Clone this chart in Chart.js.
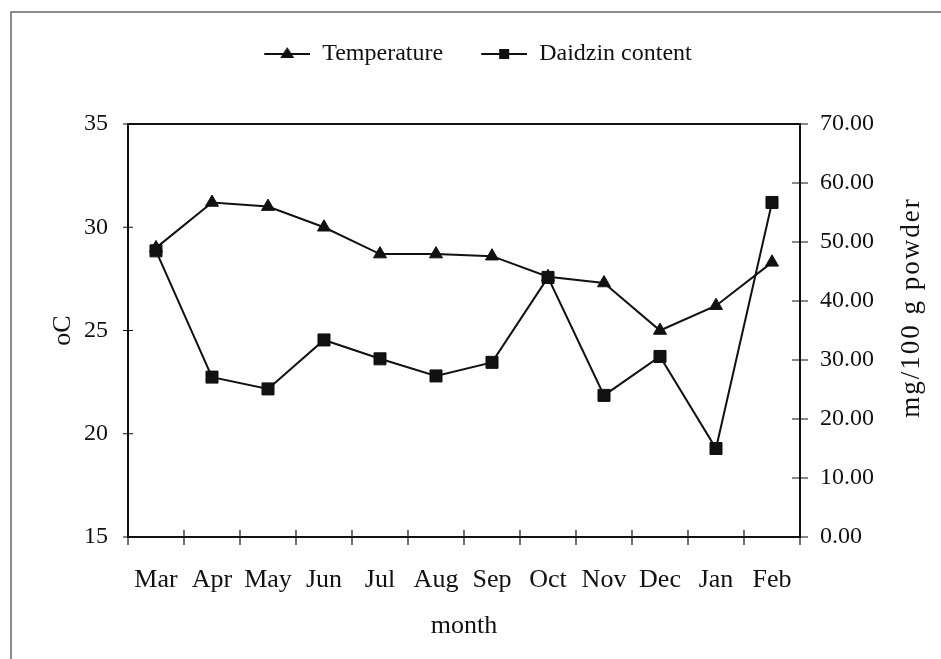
<!DOCTYPE html>
<html>
<head>
<meta charset="utf-8">
<script src="https://cdn.jsdelivr.net/npm/chart.js@4/dist/chart.umd.min.js"></script>
<style>
  body { margin: 0; background: #fff; }
  #wrap { width: 941px; height: 659px; }
</style>
</head>
<body>
<div id="wrap"><canvas id="myChart" width="941" height="659"></canvas></div>
<script>
var months = ['Mar', 'Apr', 'May', 'Jun', 'Jul', 'Aug', 'Sep', 'Oct', 'Nov', 'Dec', 'Jan', 'Feb'];
var temperature = [29.0, 31.2, 31.0, 30.0, 28.7, 28.7, 28.6, 27.6, 27.3, 25.0, 26.2, 28.3];
var daidzin = [48.5, 27.1, 25.1, 33.4, 30.2, 27.3, 29.6, 44.0, 24.0, 30.6, 15.0, 56.7];
var tempTicks = [15, 20, 25, 30, 35];
var daidzinTicks = [0, 10, 20, 30, 40, 50, 60, 70];

var serif = "'Liberation Serif', 'Times New Roman', serif";
var ink = '#111';

// legend swatch: line with the marker in the middle
function swatch(style) {
    var c = document.createElement('canvas');
    c.width = 74; c.height = 20;
    var g = c.getContext('2d');
    g.strokeStyle = ink; g.fillStyle = ink; g.lineWidth = 2;
    g.beginPath(); g.moveTo(28, 10); g.lineTo(74, 10); g.stroke();
    g.beginPath();
    if (style === 'triangle') {
        g.moveTo(51, 3); g.lineTo(58, 14); g.lineTo(44, 14); g.closePath();
    } else {
        g.rect(46, 5, 10, 10);
    }
    g.fill();
    return c;
}

var frameAndTicks = {
    id: 'frameAndTicks',
    afterDraw: function (chart) {
        var ctx = chart.ctx;
        var a = chart.chartArea;
        var s = chart.scales;
        ctx.save();
        // outer frame of the figure
        ctx.strokeStyle = '#666';
        ctx.lineWidth = 1.5;
        ctx.strokeRect(11, 12, 960, 700);
        // plot box
        ctx.strokeStyle = ink;
        ctx.lineWidth = 2;
        ctx.strokeRect(a.left, a.top, a.right - a.left, a.bottom - a.top);
        ctx.lineWidth = 1.2;
        ctx.beginPath();
        tempTicks.forEach(function (v) {
            var py = s.y.getPixelForValue(v);
            ctx.moveTo(a.left - 5, py); ctx.lineTo(a.left + 5, py);
        });
        daidzinTicks.forEach(function (v) {
            var py = s.y1.getPixelForValue(v);
            ctx.moveTo(a.right - 8, py); ctx.lineTo(a.right + 8, py);
        });
        for (var i = 0; i <= months.length; i++) {
            var px = s.x.getPixelForValue(i - 0.5);
            ctx.moveTo(px, a.bottom - 7); ctx.lineTo(px, a.bottom + 8);
        }
        ctx.stroke();
        // right axis title, reading bottom to top
        ctx.fillStyle = ink;
        ctx.font = '27px ' + serif;
        ctx.letterSpacing = '2px';
        ctx.textAlign = 'center';
        ctx.textBaseline = 'middle';
        ctx.translate(912, (a.top + a.bottom) / 2 - 23);
        ctx.rotate(-Math.PI / 2);
        ctx.fillText('mg/100 g powder', 0, 0);
        ctx.restore();
    }
};

var ctxChart = document.getElementById('myChart').getContext('2d');
var myChart = new Chart(ctxChart, {
    type: 'line',
    data: {
        labels: months,
        datasets: [{
            label: 'Temperature',
            data: temperature,
            yAxisID: 'y',
            borderColor: ink,
            backgroundColor: ink,
            borderWidth: 2,
            pointStyle: 'triangle',
            pointRadius: 7.5,
            pointBorderWidth: 1
        }, {
            label: 'Daidzin content',
            data: daidzin,
            yAxisID: 'y1',
            borderColor: ink,
            backgroundColor: ink,
            borderWidth: 2,
            pointStyle: 'rect',
            pointRadius: 8.5,
            pointBorderWidth: 1
        }]
    },
    options: {
        responsive: false,
        animation: false,
        layout: { padding: { top: 32, left: 0, right: 0, bottom: 0 } },
        plugins: {
            tooltip: { enabled: false },
            // empty title used only as a gap between legend and plot
            title: { display: true, text: '', weight: 500, font: { size: 10 }, padding: 18 },
            legend: {
                position: 'top',
                fullSize: false,
                labels: {
                    usePointStyle: true,
                    pointStyleWidth: 74,
                    padding: 10,
                    color: ink,
                    font: { family: serif, size: 24 },
                    generateLabels: function (chart) {
                        return chart.data.datasets.map(function (ds, i) {
                            return {
                                text: ds.label,
                                pointStyle: swatch(ds.pointStyle),
                                fillStyle: ink,
                                strokeStyle: ink,
                                lineWidth: 0,
                                fontColor: ink,
                                datasetIndex: i
                            };
                        });
                    }
                }
            }
        },
        scales: {
            x: {
                offset: true,
                grid: { display: false, drawTicks: false, offset: true },
                border: { display: false },
                ticks: { color: ink, font: { family: serif, size: 26 }, padding: 28, maxRotation: 0, autoSkip: false },
                title: { display: true, text: 'month', color: ink, font: { family: serif, size: 26 }, padding: { top: 0, bottom: 17 } },
                afterFit: function (scale) { scale.height = 122; }
            },
            y: {
                position: 'left',
                min: 15,
                max: 35,
                grid: { display: false, drawTicks: false },
                border: { display: false },
                ticks: { stepSize: 5, color: ink, font: { family: serif, size: 24 }, padding: 20 },
                title: { display: true, text: 'oC', color: ink, font: { family: serif, size: 26 }, padding: { top: 48, bottom: 0 } },
                afterFit: function (scale) { scale.width = 128; }
            },
            y1: {
                position: 'right',
                min: 0,
                max: 70,
                grid: { display: false, drawTicks: false },
                border: { display: false },
                ticks: {
                    stepSize: 10, color: ink, font: { family: serif, size: 24 }, padding: 20,
                    callback: function (v) { return v.toFixed(2); }
                },
                afterFit: function (scale) { scale.width = 141; }
            }
        }
    },
    plugins: [frameAndTicks]
});
</script>
</body>
</html>
